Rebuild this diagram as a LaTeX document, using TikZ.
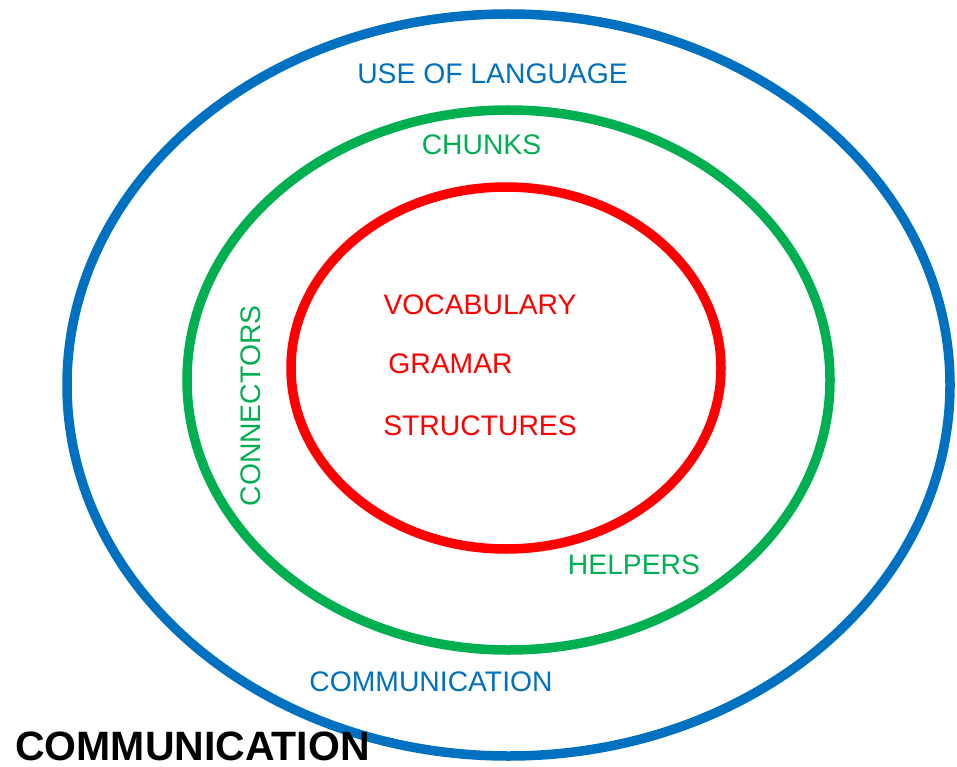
\documentclass[tikz,border=0pt]{standalone}
\usepackage{fontspec}
\setmainfont{Liberation Sans}
\definecolor{cblue}{HTML}{0070C0}
\definecolor{cgreen}{HTML}{00B050}
\definecolor{cred}{HTML}{FF0000}
\tikzset{
  ring/.style={line width=9.5pt},
  lbl/.style={inner sep=0pt, anchor=center, font=\fontsize{28.3}{30}\selectfont},
}
\begin{document}
\begin{tikzpicture}[x=1pt,y=-1pt]
\useasboundingbox (0,0) rectangle (957,767);
\draw[ring, cblue] (508.5,385) ellipse [x radius=441.5, y radius=371];
\draw[ring, cgreen] (508.5,380) ellipse [x radius=321.5, y radius=270];
\draw[ring, cred] (506,368) ellipse [x radius=215, y radius=181];
\node[lbl, text=cblue] (use) at (492.5,74) {USE OF LANGUAGE};
\node[lbl, text=cgreen] (chunks) at (481.5,145) {CHUNKS};
\node[lbl, text=cred] (voc) at (480,305) {VOCABULARY};
\node[lbl, text=cred] (gram) at (450.5,364) {GRAMAR};
\node[lbl, text=cred] (struct) at (480,426) {STRUCTURES};
\node[lbl, text=cgreen, rotate=90] (conn) at (251,406) {CONNECTORS};
\node[lbl, text=cgreen] (help) at (634,565) {HELPERS};
\node[lbl, text=cblue] (comm) at (431,682) {COMMUNICATION};
\node[lbl, text=black, font=\fontsize{41}{44}\selectfont\bfseries] (title) at (192.5,746) {COMMUNICATION};
\end{tikzpicture}
\end{document}
